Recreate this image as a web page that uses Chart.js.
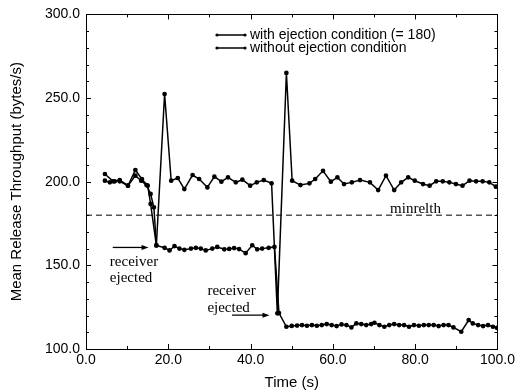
<!DOCTYPE html>
<html>
<head>
<meta charset="utf-8">
<script src="https://cdn.jsdelivr.net/npm/chart.js@4.4.1/dist/chart.umd.min.js"></script>
<style>
html,body{margin:0;padding:0;background:#fff;}
#wrap{width:518px;height:392px;}
</style>
</head>
<body>
<div id="wrap"><canvas id="c" width="518" height="392"></canvas></div>
<script>
// ---- data ----
const seriesLabels = ["with ejection condition (= 180)", "without ejection condition"];

const timesWith = [4.6, 6.6, 8.2, 10.2, 12.0, 13.6, 15.0, 15.7, 17.1, 19.1, 20.7, 22.3, 23.9, 25.9, 27.5, 29.5, 31.2, 32.9, 34.5, 36.4, 38.0, 39.9, 41.5, 43.2, 45.1, 46.5, 48.7, 50.1, 52.1, 54.3, 55.7, 57.6, 59.5, 61.1, 62.7, 64.6, 66.6, 69.0, 71.0, 72.9, 74.9, 76.6, 78.3, 79.9, 81.9, 83.5, 85.1, 86.7, 88.3, 89.9, 91.5, 93.2, 94.8, 96.4, 98.0, 99.6];
const valuesWith = [204.6, 200.2, 201.0, 197.6, 207.0, 201.5, 197.6, 186.7, 161.9, 252.4, 200.6, 202.2, 195.6, 204.0, 201.6, 196.6, 203.0, 200.0, 202.6, 199.6, 201.2, 197.6, 199.6, 201.0, 199.0, 121.3, 265.0, 200.6, 198.0, 199.0, 201.6, 206.5, 200.0, 202.6, 198.6, 199.6, 201.0, 199.6, 195.0, 203.6, 195.0, 199.6, 202.6, 200.6, 198.6, 197.6, 200.2, 200.2, 199.6, 198.6, 197.6, 200.6, 200.2, 200.2, 199.6, 197.0];

const timesWithout = [4.6, 5.8, 7.0, 8.2, 10.2, 12.0, 13.4, 14.7, 15.7, 16.5, 17.1, 19.1, 20.3, 21.5, 22.7, 23.9, 25.5, 26.7, 27.9, 29.1, 30.7, 31.9, 33.6, 34.8, 36.0, 37.2, 38.8, 40.4, 41.6, 42.8, 44.4, 45.8, 46.9, 48.7, 50.0, 51.3, 52.5, 53.7, 54.9, 56.1, 57.3, 58.5, 59.7, 60.9, 62.1, 63.3, 64.5, 65.7, 66.9, 68.1, 69.3, 70.1, 71.3, 72.5, 73.7, 74.9, 76.1, 77.3, 78.5, 79.7, 80.9, 82.1, 83.3, 84.5, 85.7, 86.9, 88.1, 89.3, 91.2, 93.0, 94.0, 95.3, 96.5, 97.7, 98.9, 99.9];
const valuesWithout = [200.6, 199.6, 200.2, 200.2, 197.6, 203.6, 200.6, 198.0, 192.7, 184.7, 161.9, 160.5, 158.9, 161.5, 160.0, 159.3, 160.0, 160.5, 160.0, 158.9, 160.0, 161.0, 159.6, 159.8, 160.3, 159.7, 157.3, 162.0, 159.6, 160.0, 160.5, 161.0, 121.5, 113.3, 113.8, 114.0, 114.3, 113.9, 114.3, 113.9, 114.3, 114.9, 114.3, 113.7, 114.7, 114.3, 112.9, 115.3, 114.9, 114.3, 114.9, 115.7, 114.3, 113.3, 114.3, 114.9, 114.3, 114.3, 113.3, 114.3, 113.9, 114.3, 114.3, 114.3, 113.7, 114.3, 114.3, 112.9, 110.3, 117.3, 115.3, 114.3, 113.7, 114.3, 113.3, 112.6];

const thresholdValue = 180;
const thresholdLabel = "minrelth";
const xTickValues = [0, 20, 40, 60, 80, 100];
const yTickValues = [100, 150, 200, 250, 300];

// annotations in data coordinates
const notes = [
  {lines: ["receiver", "ejected"], x: 5.8, y: [151.8, 142.3], arrow: [6.5, 15.2, 160.7]},
  {lines: ["receiver", "ejected"], x: 29.5, y: [134.5, 124.4], arrow: [35.5, 44.6, 120.2]}
];
const thresholdNote = {x: 73.9, y: 183.6};

// ---- build ----
const toPts = (xs, ys) => xs.map((x, i) => ({x: x, y: ys[i]}));

const sans = "'Liberation Sans', Arial, Helvetica, sans-serif";
const serif = "'Liberation Serif', 'Times New Roman', serif";

const insideTicks = {
  id: 'insideTicks',
  afterDraw(chart) {
    const {ctx, chartArea: a, scales: {x, y}} = chart;
    ctx.save();
    ctx.strokeStyle = '#000';
    ctx.lineWidth = 1;
    ctx.beginPath();
    for (let v = 0; v <= 100; v += 10) {
      const px = Math.round(x.getPixelForValue(v)) + 0.5;
      const len = (v % 20 === 0) ? 5 : 3;
      ctx.moveTo(px, a.bottom); ctx.lineTo(px, a.bottom - len);
      ctx.moveTo(px, a.top); ctx.lineTo(px, a.top + len);
    }
    for (let v = 100; v <= 300; v += 10) {
      const py = Math.round(y.getPixelForValue(v)) + 0.5;
      const len = (v % 50 === 0) ? 5 : 3;
      ctx.moveTo(a.left, py); ctx.lineTo(a.left + len, py);
      ctx.moveTo(a.right, py); ctx.lineTo(a.right - len, py);
    }
    ctx.stroke();
    ctx.strokeRect(Math.round(a.left) + 0.5, Math.round(a.top) + 0.5, Math.round(a.right - a.left), Math.round(a.bottom - a.top));
    ctx.restore();
  }
};

function arrow(ctx, x1, x2, y) {
  ctx.beginPath();
  ctx.moveTo(x1, y); ctx.lineTo(x2 - 5, y);
  ctx.stroke();
  ctx.beginPath();
  ctx.moveTo(x2, y); ctx.lineTo(x2 - 7, y - 2.5); ctx.lineTo(x2 - 7, y + 2.5); ctx.closePath();
  ctx.fill();
}

const notesPlugin = {
  id: 'notes',
  afterDatasetsDraw(chart) {
    const {ctx, scales: {x, y}} = chart;
    ctx.save();
    ctx.fillStyle = '#000';
    ctx.strokeStyle = '#000';
    ctx.lineWidth = 1.3;
    ctx.font = '15px ' + serif;
    ctx.textAlign = 'left';
    ctx.textBaseline = 'middle';
    notes.forEach(n => {
      n.lines.forEach((t, i) => ctx.fillText(t, x.getPixelForValue(n.x), y.getPixelForValue(n.y[i])));
      arrow(ctx, x.getPixelForValue(n.arrow[0]), x.getPixelForValue(n.arrow[1]), y.getPixelForValue(n.arrow[2]));
    });
    ctx.fillText(thresholdLabel, x.getPixelForValue(thresholdNote.x), y.getPixelForValue(thresholdNote.y));

    // legend
    const ds = chart.data.datasets;
    ctx.font = '14px ' + sans;
    [0, 1].forEach(i => {
      const ly = 35 + i * 13;
      ctx.lineWidth = 1.5;
      ctx.beginPath(); ctx.moveTo(217, ly); ctx.lineTo(245, ly); ctx.stroke();
      [217, 245].forEach(px => { ctx.beginPath(); ctx.arc(px, ly, 1.6, 0, Math.PI * 2); ctx.fill(); });
      ctx.fillText(ds[i].label, 250, ly + 0.5);
    });
    ctx.restore();
  }
};

new Chart(document.getElementById('c'), {
  type: 'line',
  data: {
    datasets: [
      {label: seriesLabels[0], data: toPts(timesWith, valuesWith), borderColor: '#000', backgroundColor: '#000',
       borderWidth: 1.5, pointRadius: 1.6, pointStyle: 'circle', tension: 0},
      {label: seriesLabels[1], data: toPts(timesWithout, valuesWithout), borderColor: '#000', backgroundColor: '#000',
       borderWidth: 1.5, pointRadius: 1.6, pointStyle: 'circle', tension: 0},
      {label: thresholdLabel, data: [{x: 0, y: thresholdValue}, {x: 100, y: thresholdValue}], borderColor: '#000',
       borderWidth: 1, borderDash: [6, 4], pointRadius: 0, tension: 0}
    ]
  },
  options: {
    responsive: false,
    devicePixelRatio: 1,
    animation: false,
    layout: {padding: {top: 13, right: 18, left: 0, bottom: 0}},
    plugins: {legend: {display: false}, tooltip: {enabled: false}},
    scales: {
      x: {
        type: 'linear', min: 0, max: 100,
        afterFit: s => { s.height = 43; },
        afterBuildTicks: s => { s.ticks = xTickValues.map(v => ({value: v})); },
        ticks: {color: '#000', font: {family: sans, size: 14}, padding: 3, maxRotation: 0,
                callback: v => Number(v).toFixed(1)},
        grid: {display: false, drawTicks: false},
        border: {display: false},
        title: {display: true, text: 'Time (s)', color: '#000', font: {family: sans, size: 15}, padding: {top: 0, bottom: 0}}
      },
      y: {
        type: 'linear', min: 100, max: 300,
        afterFit: s => { s.width = 86; },
        afterBuildTicks: s => { s.ticks = yTickValues.map(v => ({value: v})); },
        ticks: {color: '#000', font: {family: sans, size: 14}, padding: 6,
                callback: v => Number(v).toFixed(1)},
        grid: {display: false, drawTicks: false},
        border: {display: false},
        title: {display: true, text: 'Mean Release Throughput (bytes/s)', color: '#000', font: {family: sans, size: 15}, padding: {top: 8, bottom: 0}}
      }
    }
  },
  plugins: [insideTicks, notesPlugin]
});
</script>
</body>
</html>
